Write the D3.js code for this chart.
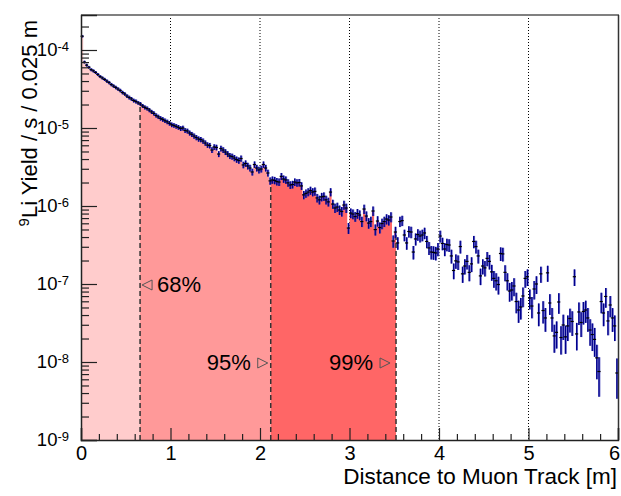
<!DOCTYPE html>
<html>
<head>
<meta charset="utf-8">
<script src="https://cdn.jsdelivr.net/npm/d3@7"></script>
<style>
  body { margin: 0; background: #fff; }
  svg { display: block; font-family: "Liberation Sans", Arial, Helvetica, sans-serif; }
</style>
</head>
<body>
<svg id="chart" width="621" height="496"></svg>
<script>
// histogram: 9Li yield per 0.025 m bin
const binWidth = 0.025;
const yieldValues = [
  1.5e-4, 7.0e-5, 6.4e-5, 6.0e-5, 5.6e-5, 5.4e-5, 5.15e-5, 4.85e-5, 4.57e-5, 4.38e-5,
  4.2e-5, 4.0e-5, 3.83e-5, 3.61e-5, 3.45e-5, 3.31e-5, 3.16e-5, 3.02e-5, 2.85e-5, 2.73e-5,
  2.57e-5, 2.46e-5, 2.36e-5, 2.25e-5, 2.19e-5, 2.10e-5, 2.03e-5, 1.92e-5, 1.84e-5, 1.78e-5,
  1.70e-5, 1.61e-5, 1.54e-5, 1.45e-5, 1.39e-5, 1.33e-5, 1.29e-5, 1.24e-5, 1.20e-5, 1.15e-5,
  1.10e-5, 1.08e-5, 1.05e-5, 1.02e-5, 9.85e-6, 1.0e-5, 9.3e-6, 9.15e-6, 8.63e-6, 8.3e-6,
  7.89e-6, 7.55e-6, 7.23e-6, 7.12e-6, 6.81e-6, 6.42e-6, 6.05e-6, 5.96e-6, 5.22e-6, 5.71e-6,
  5.63e-6, 4.64e-6, 5.46e-6, 5.22e-6, 4.92e-6, 4.64e-6, 4.38e-6, 4.31e-6, 4.12e-6, 3.94e-6,
  3.83e-6, 4.06e-6, 3.36e-6, 3.51e-6, 3.26e-6, 3.07e-6, 2.73e-6, 3.40e-6, 3.07e-6, 2.90e-6,
  2.98e-6, 3.40e-6, 3.07e-6, 2.65e-6, 2.10e-6, 2.16e-6, 2.13e-6, 2.06e-6, 2.03e-6, 2.40e-6,
  2.22e-6, 2.16e-6, 1.98e-6, 1.86e-6, 1.89e-6, 2.03e-6, 1.98e-6, 2.0e-6, 1.81e-6, 1.39e-6,
  1.45e-6, 1.51e-6, 1.58e-6, 1.51e-6, 1.54e-6, 1.27e-6, 1.20e-6, 1.31e-6, 1.33e-6, 1.20e-6,
  1.13e-6, 1.51e-6, 1.06e-6, 9.43e-7, 9.71e-7, 8.89e-7, 8.5e-7, 1.03e-6, 9.43e-7, 5.22e-7,
  8.13e-7, 7.89e-7, 7.33e-7, 8.0e-7, 7.66e-7, 6.32e-7, 9.15e-7, 7.44e-7, 6.05e-7, 6.32e-7,
  8.63e-7, 4.99e-7, 6.42e-7, 5.30e-7, 5.96e-7, 6.32e-7, 6.81e-7, 6.61e-7, 7.23e-7, 3.56e-7,
  4.64e-7, 3.36e-7, 6.32e-7, 6.5e-7, 4.25e-7, 3.36e-7, 4.71e-7, 4.64e-7, 2.57e-7, 3.78e-7,
  4.31e-7, 4.12e-7, 4.25e-7, 4.51e-7, 3.51e-7, 2.90e-7, 2.57e-7, 2.54e-7, 2.50e-7, 2.81e-7,
  4.12e-7, 3.31e-7, 2.81e-7, 3.21e-7, 3.16e-7, 2.29e-7, 1.49e-7, 1.98e-7, 1.92e-7, 3.02e-7,
  1.35e-7, 1.70e-7, 1.95e-7, 1.41e-7, 1.81e-7, 3.51e-7, 3.02e-7, 2.29e-7, 1.27e-7, 1.70e-7,
  1.61e-7, 2.13e-7, 1.95e-7, 1.43e-7, 1.18e-7, 1.10e-7, 9.85e-8, 2.46e-7, 2.43e-7, 1.41e-7,
  1.10e-7, 8.13e-8, 8.38e-8, 9.43e-8, 5.96e-8, 4.64e-8, 5.07e-8, 7.02e-8, 1.18e-7, 1.24e-7,
  6.61e-8, 5.22e-8, 8.63e-8, 1.0e-7, 4.25e-8, 1.35e-7, 4.57e-8, 3.67e-8, 1.39e-7, 5.71e-8,
  3.67e-8, 2.16e-8, 2.40e-8, 5.88e-8, 2.06e-8, 2.98e-8, 2.10e-8, 2.90e-8, 3.61e-8, 3.31e-8,
  1.24e-7, 2.29e-8, 4.38e-8, 3.21e-8, 4.44e-8, 4.64e-8, 3.67e-8, 2.57e-8, 2.25e-8, 1.95e-8,
  1.13e-8, 7.55e-9, 5.96e-8, 4.25e-8, 6.92e-8, 3.36e-8, 5.38e-8, 3.67e-8, 2.90e-8, 7.23e-9
];
// uncertainty model for the error bars: sigma = errNorm * content^errPower
const errNorm = 0.00279;
const errPower = 0.72;

const quantileCuts = [0.66, 2.12, 3.52];
const quantileLabels = ["68%", "95%", "99%"];
const quantileColors = ["#ffcccc", "#ff9999", "#ff6666"];

const xMajorTicks = [0, 1, 2, 3, 4, 5, 6];
const xGridLines = [1, 2, 3, 4, 5];
const yMajorTicks = [1e-9, 1e-8, 1e-7, 1e-6, 1e-5, 1e-4];

const svg = d3.select("#chart");
const padL = 81, padR = 618, padT = 15, padB = 440;

const x = d3.scaleLinear().domain([0, 6]).range([padL, padR]);
const y = d3.scaleLog().domain([1e-9, 2.81e-4]).range([padB, padT]);

// dotted grid (behind the fill)
svg.append("g").selectAll("line")
  .data(xGridLines)
  .enter().append("line")
  .attr("x1", d => x(d)).attr("x2", d => x(d))
  .attr("y1", padT).attr("y2", padB)
  .attr("stroke", "#000").attr("stroke-width", 1)
  .attr("stroke-dasharray", "1,2");

// filled quantile regions, step shape of the histogram
function stepPath(a, b) {
  const pts = [[x(a), padB]];
  yieldValues.forEach((v, i) => {
    const lo = Math.max(i * binWidth, a), hi = Math.min((i + 1) * binWidth, b);
    if (hi <= lo) return;
    pts.push([x(lo), y(v)], [x(hi), y(v)]);
  });
  pts.push([x(b), padB]);
  return d3.line()(pts) + "Z";
}
const cutStarts = [0].concat(quantileCuts.slice(0, -1));
svg.append("g").selectAll("path")
  .data(quantileCuts)
  .enter().append("path")
  .attr("d", (d, i) => stepPath(cutStarts[i], d))
  .attr("fill", (d, i) => quantileColors[i]);

// dashed cut lines up to the histogram
const binAt = c => yieldValues[Math.floor(c / binWidth)];
svg.append("g").selectAll("line")
  .data(quantileCuts)
  .enter().append("line")
  .attr("x1", d => x(d)).attr("x2", d => x(d))
  .attr("y1", padB).attr("y2", d => y(binAt(d)))
  .attr("stroke", "#333").attr("stroke-width", 1.5)
  .attr("stroke-dasharray", "5,3");

// data points with errors
const bins = yieldValues.map((v, i) => {
  const err = errNorm * Math.pow(v, errPower);
  return { xc: (i + 0.5) * binWidth, v: v, hi: v + err, lo: Math.max(v - err, 1e-9) };
});
const bw = x(binWidth) - x(0);
const pts = svg.append("g");
pts.selectAll("rect")
  .data(bins)
  .enter().append("rect")
  .attr("x", d => x(d.xc) - bw * 0.45 + 0.4)
  .attr("width", bw * 0.9)
  .attr("y", d => Math.min(y(d.hi), y(d.v) - 1.3))
  .attr("height", d => Math.max(y(d.lo) - y(d.hi), 2.6))
  .attr("fill", "#3a3ab8").attr("fill-opacity", 0.75);
pts.selectAll("line.err")
  .data(bins)
  .enter().append("line")
  .attr("class", "err")
  .attr("x1", d => x(d.xc)).attr("x2", d => x(d.xc))
  .attr("y1", d => y(d.hi)).attr("y2", d => y(d.lo))
  .attr("stroke", "#00008c").attr("stroke-width", 1.3);
pts.selectAll("line.mk")
  .data(bins)
  .enter().append("line")
  .attr("class", "mk")
  .attr("x1", d => x(d.xc) - 1.6).attr("x2", d => x(d.xc) + 1.6)
  .attr("y1", d => y(d.v)).attr("y2", d => y(d.v))
  .attr("stroke", "#000").attr("stroke-width", 1.2);

// frame
svg.append("line").attr("x1", padL).attr("x2", padR + 1).attr("y1", padT).attr("y2", padT)
  .attr("stroke", "#808080").attr("stroke-width", 2);
svg.append("line").attr("x1", padR + 0.5).attr("x2", padR + 0.5).attr("y1", padT).attr("y2", padB)
  .attr("stroke", "#333").attr("stroke-width", 1.5);

// axes
const xAxis = svg.append("g").attr("transform", `translate(0,${padB})`)
  .call(d3.axisBottom(x).tickValues(xMajorTicks).tickSize(-12).tickPadding(6).tickFormat(d3.format("d")));
svg.append("g").attr("transform", `translate(0,${padB})`)
  .call(d3.axisBottom(x).tickValues(d3.range(0, 6.01, 0.2).filter(t => Math.abs(t - Math.round(t)) > 0.01))
    .tickSize(-6).tickFormat(""))
  .call(g => g.select(".domain").remove());

const yMinor = [];
yMajorTicks.forEach(t => { for (let k = 2; k <= 9; k++) if (t * k <= 2.81e-4) yMinor.push(t * k); });
const yAxis = svg.append("g").attr("transform", `translate(${padL},0)`)
  .call(d3.axisLeft(y).tickValues(yMajorTicks).tickSize(-16).tickPadding(12));
svg.append("g").attr("transform", `translate(${padL},0)`)
  .call(d3.axisLeft(y).tickValues(yMinor).tickSize(-8).tickFormat(""))
  .call(g => g.select(".domain").remove());

svg.selectAll(".domain").attr("stroke", "#222").attr("stroke-width", 1.5);
svg.selectAll(".tick line").attr("stroke", "#222").attr("stroke-width", 1.2);
xAxis.selectAll(".tick text").attr("font-size", 20).attr("fill", "#000").attr("font-family", null);
// last label sits at the window edge: pull it in so it stays whole
xAxis.selectAll(".tick text").filter(d => d === 6).attr("dx", -4);
yAxis.selectAll(".tick text")
  .attr("font-size", 18.5).attr("fill", "#000").attr("font-family", null)
  .text(null)
  .each(function(d) {
    const t = d3.select(this);
    t.append("tspan").text("10");
    t.append("tspan").attr("dy", "-0.45em").attr("font-size", 13).text(Math.round(Math.log10(d)));
  });

// axis titles
svg.append("text")
  .attr("x", 617).attr("y", 484)
  .attr("text-anchor", "end").attr("font-size", 22.5)
  .text("Distance to Muon Track [m]");
const yTitle = svg.append("text")
  .attr("transform", "translate(36.5,20) rotate(-90)")
  .attr("text-anchor", "end").attr("font-size", 22);
yTitle.append("tspan").attr("font-size", 15).attr("dy", -8).text("9");
yTitle.append("tspan").attr("dy", 8).text("Li Yield / s / 0.025 m");

// quantile labels
const labelY = [1e-7, 1e-8, 1e-8];
const lab = svg.append("g");
quantileCuts.forEach((c, i) => {
  const cx = x(c), cy = y(labelY[i]) + 1;
  if (i === 0) {
    const tip = cx + 2;
    lab.append("path")
      .attr("d", `M${tip},${cy} L${tip + 10},${cy - 5} L${tip + 10},${cy + 5} Z`)
      .attr("fill", "none").attr("stroke", "#555").attr("stroke-width", 1);
    lab.append("text").attr("x", tip + 15).attr("y", cy + 7.5)
      .attr("font-size", 22).text(quantileLabels[i]);
  } else {
    const tip = cx - (i === 1 ? 3 : 6);
    lab.append("path")
      .attr("d", `M${tip},${cy} L${tip - 10},${cy - 5} L${tip - 10},${cy + 5} Z`)
      .attr("fill", "none").attr("stroke", "#555").attr("stroke-width", 1);
    lab.append("text").attr("x", tip - 17).attr("y", cy + 7.5)
      .attr("text-anchor", "end").attr("font-size", 22).text(quantileLabels[i]);
  }
});
</script>
</body>
</html>
